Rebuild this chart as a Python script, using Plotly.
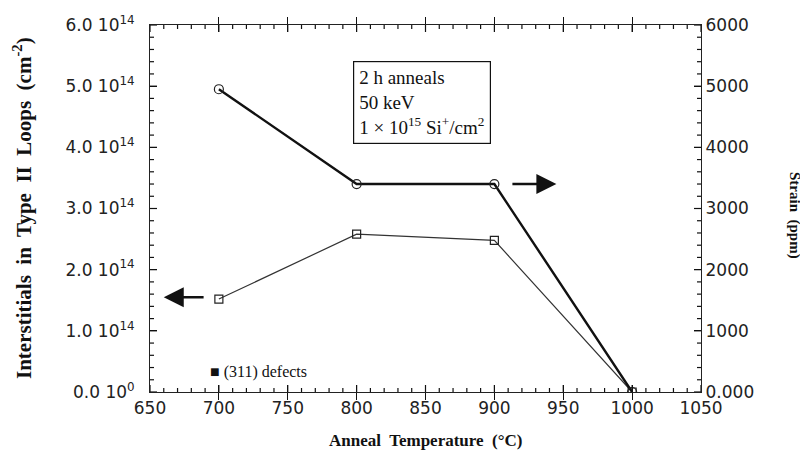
import plotly.graph_objects as go

# ---- data ----
temps = [700, 800, 900, 1000]
interstitials = [1.52e14, 2.58e14, 2.48e14, 0.0]
strain = [4950, 3400, 3400, 0]

left_tickvals = [0, 1e14, 2e14, 3e14, 4e14, 5e14, 6e14]
left_ticktext = ["0.0 10<sup>0</sup>", "1.0 10<sup>14</sup>", "2.0 10<sup>14</sup>",
                 "3.0 10<sup>14</sup>", "4.0 10<sup>14</sup>", "5.0 10<sup>14</sup>",
                 "6.0 10<sup>14</sup>"]
right_tickvals = [0, 1000, 2000, 3000, 4000, 5000, 6000]
right_ticktext = ["0.000", "1000", "2000", "3000", "4000", "5000", "6000"]
x_tickvals = [650, 700, 750, 800, 850, 900, 950, 1000, 1050]

# arrow positions (data units): strain arrow -> right axis, interstitial arrow -> left axis
strain_arrow = dict(x_from=912, x_to=945, y=3400)
inter_arrow = dict(x_from=690, x_to=660, y=1.55e14)

serif = "Liberation Serif, Times New Roman, serif"
sans = "DejaVu Sans, Verdana, sans-serif"
NBSP = "\u00a0"

fig = go.Figure()
fig.add_trace(go.Scatter(
    x=temps, y=interstitials, mode="lines+markers", yaxis="y",
    line=dict(color="#333", width=1.2),
    marker=dict(symbol="square-open", size=8, color="#222", line=dict(width=1.2)),
    showlegend=False))
fig.add_trace(go.Scatter(
    x=temps, y=strain, mode="lines+markers", yaxis="y2",
    line=dict(color="#111", width=2.4),
    marker=dict(symbol="circle-open", size=9, color="#222", line=dict(width=1.2)),
    showlegend=False))

axis_common = dict(showgrid=False, zeroline=False, showline=True, linecolor="#222",
                   linewidth=1.3, ticks="inside", tickcolor="#111", ticklen=7,
                   tickwidth=1.2,
                   tickfont=dict(family=sans, size=17, color="#222"))

# page body has an 8px default margin, so the figure is 800x446 placed at (8, 8)
fig.update_layout(
    width=800, height=446,
    margin=dict(l=142, r=107, t=17, b=62, autoexpand=False),
    paper_bgcolor="white", plot_bgcolor="white",
    xaxis=dict(range=[650, 1050], tickvals=x_tickvals, mirror="allticks", **axis_common),
    yaxis=dict(range=[0, 6e14], tickvals=left_tickvals,
               ticktext=[t + NBSP * 2 for t in left_ticktext], **axis_common),
    yaxis2=dict(range=[0, 6000], tickvals=right_tickvals, ticktext=right_ticktext,
                overlaying="y", side="right", **axis_common),
)

# ---- tick marks drawn as axis-anchored shapes (major + minor, pointing inward) ----
PLOT_W, PLOT_H = 551, 367
MAJ, MIN = 7, 4
tick_style = dict(type="line", line=dict(color="#111", width=1.2), layer="above")
shapes = []
x_minor = list(range(650, 1051, 10))
for xv in x_minor:
    L = (MAJ if xv in x_tickvals else MIN) / PLOT_H
    shapes.append(dict(xref="x", yref="y domain", x0=xv, x1=xv, y0=0, y1=L, **tick_style))
    shapes.append(dict(xref="x", yref="y domain", x0=xv, x1=xv, y0=1, y1=1 - L, **tick_style))
for k in range(0, 31):
    yv = k * 2e13
    L = (MAJ if k % 5 == 0 else MIN) / PLOT_W
    shapes.append(dict(xref="x domain", yref="y", x0=0, x1=L, y0=yv, y1=yv, **tick_style))
for k in range(0, 31):
    yv = k * 200
    L = (MAJ if k % 5 == 0 else MIN) / PLOT_W
    shapes.append(dict(xref="x domain", yref="y2", x0=1, x1=1 - L, y0=yv, y1=yv, **tick_style))
fig.update_layout(shapes=shapes)

annotations = [
    # arrows
    dict(x=strain_arrow["x_to"], y=strain_arrow["y"], ax=strain_arrow["x_from"], ay=strain_arrow["y"],
         xref="x", yref="y2", axref="x", ayref="y2", showarrow=True, arrowhead=2,
         arrowsize=1.6, arrowwidth=2.5, arrowcolor="#111", text=""),
    dict(x=inter_arrow["x_to"], y=inter_arrow["y"], ax=inter_arrow["x_from"], ay=inter_arrow["y"],
         xref="x", yref="y", axref="x", ayref="y", showarrow=True, arrowhead=2,
         arrowsize=1.6, arrowwidth=2.5, arrowcolor="#111", text=""),
    # info box
    dict(x=(353 - 150) / 551, y=(392 - 102) / 367, xref="paper", yref="paper",
         xanchor="left", yanchor="middle", showarrow=False, align="left",
         text="2 h anneals<br>50 keV<br>1 × 10<sup>15</sup> Si<sup>+</sup>/cm<sup>2</sup>",
         font=dict(family=serif, size=19, color="#111"),
         bordercolor="#111", borderwidth=1.2, borderpad=5, bgcolor="white"),
    # legend note
    dict(x=(208 - 150) / 551, y=(392 - 372) / 367, xref="paper", yref="paper",
         xanchor="left", yanchor="middle", showarrow=False,
         text="■ (311) defects", font=dict(family=serif, size=16, color="#111")),
    # axis titles
    dict(x=(425 - 150) / 551, y=(392 - 440) / 367, xref="paper", yref="paper",
         xanchor="center", yanchor="middle", showarrow=False,
         text="<b>Anneal  Temperature  (°C)</b>", font=dict(family=serif, size=17, color="#111")),
    dict(x=(22 - 150) / 551, y=(392 - 208) / 367, xref="paper", yref="paper",
         xanchor="center", yanchor="middle", showarrow=False, textangle=-90,
         text="<b>Interstitials  in  Type  II  Loops  (cm<sup>-2</sup>)</b>",
         font=dict(family=serif, size=21, color="#111")),
    dict(x=(795 - 150) / 551, y=(392 - 215) / 367, xref="paper", yref="paper",
         xanchor="center", yanchor="middle", showarrow=False, textangle=90,
         text="<b>Strain  (ppm)</b>", font=dict(family=serif, size=15, color="#111")),
]
fig.update_layout(annotations=annotations)

fig.write_html("out.html", config={"displayModeBar": False})
